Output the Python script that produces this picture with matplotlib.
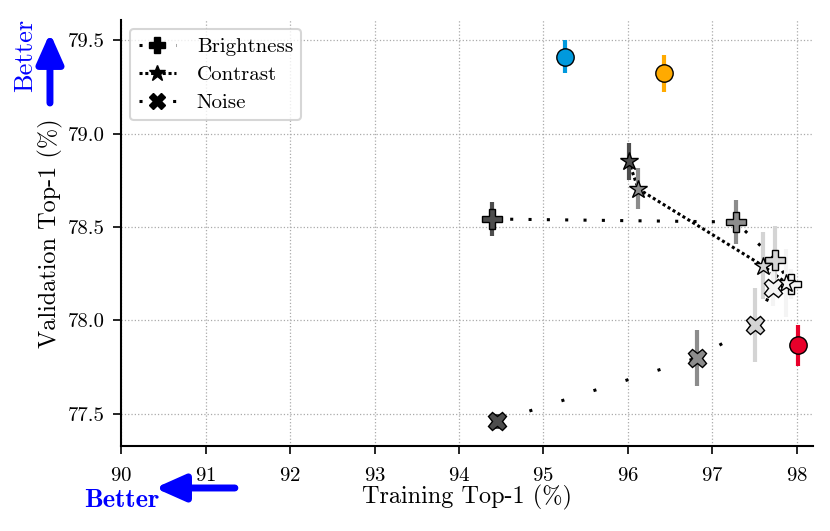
import matplotlib
matplotlib.use("Agg")
import matplotlib.pyplot as plt
from matplotlib.lines import Line2D

plt.rcParams['font.family'] = ['cmr10', 'DejaVu Serif']
plt.rcParams['axes.formatter.use_mathtext'] = True
plt.rcParams['mathtext.fontset'] = 'cm'

# ---- data ----
brightness_x = [94.39, 97.28, 97.745, 97.93]
brightness_y = [78.543, 78.527, 78.325, 78.195]
brightness_err = [0.09, 0.118, 0.18, 0.08]

contrast_x = [96.01, 96.125, 97.60, 97.88]
contrast_y = [78.852, 78.704, 78.293, 78.20]
contrast_err = [0.10, 0.11, 0.18, 0.184]

noise_x = [94.455, 96.82, 97.51, 97.72]
noise_y = [77.461, 77.80, 77.976, 78.176]
noise_err = [0.04, 0.15, 0.197, 0.10]

ref_x = [95.26, 96.43, 98.02]
ref_y = [79.411, 79.322, 77.867]
ref_err = [0.088, 0.10, 0.109]
ref_colors = ['#0099dd', '#ffaa00', '#e8002a']

shade_colors = ['#4d4d4d', '#8c8c8c', '#d4d4d4', '#f4f4f4']

xticks = [90, 91, 92, 93, 94, 95, 96, 97, 98]
yticks = [77.5, 78.0, 78.5, 79.0, 79.5]
labels = ['Brightness', 'Contrast', 'Noise']

fig = plt.figure(figsize=(8.3, 5.31), dpi=100)
ax = fig.add_axes([0.1461, 0.160, 0.834, 0.802])

series = [
    (brightness_x, brightness_y, brightness_err, 'P', 14.0, (0, (1, 5))),
    (contrast_x, contrast_y, contrast_err, '*', 13.5, (0, (1, 0.9))),
    (noise_x, noise_y, noise_err, 'X', 13.5, (0, (1, 10))),
]

handles = []
for xs, ys, es, mk, ms, ls in series:
    ax.plot(xs, ys, color='black', linestyle=ls, lw=2.2, zorder=2)
    for xv, yv, ev, c in zip(xs, ys, es, shade_colors):
        ax.errorbar([xv], [yv], yerr=[ev], fmt='none', ecolor=c, elinewidth=3, capsize=0, zorder=3)
        ax.plot([xv], [yv], marker=mk, markersize=ms, markerfacecolor=c,
                markeredgecolor='black', markeredgewidth=1.0, linestyle='none', zorder=4)
    handles.append(Line2D([0], [0], color='black', linestyle=ls, lw=2.2, marker=mk,
                          markersize=12, markerfacecolor='black', markeredgecolor='black'))

for xv, yv, ev, c in zip(ref_x, ref_y, ref_err, ref_colors):
    ax.errorbar([xv], [yv], yerr=[ev], fmt='none', ecolor=c, elinewidth=3, capsize=0, zorder=3)
    ax.plot([xv], [yv], marker='o', markersize=12.5, markerfacecolor=c,
            markeredgecolor='black', markeredgewidth=1.0, linestyle='none', zorder=4)

ax.set_xlim(90, 98.2)
ax.set_ylim(77.328, 79.607)
ax.set_xticks(xticks)
ax.set_yticks(yticks)
ax.set_yticklabels([f'{v:.1f}' for v in yticks])
ax.tick_params(axis='x', labelsize=15, width=1.2, length=6, pad=9)
ax.tick_params(axis='y', labelsize=15, width=1.2, length=6, pad=6)
ax.spines['top'].set_visible(False)
ax.spines['right'].set_visible(False)
ax.spines['left'].set_linewidth(1.5)
ax.spines['bottom'].set_linewidth(1.5)
ax.grid(True, linestyle=':', color='#aaaaaa', lw=0.9)
ax.set_axisbelow(True)

ax.set_xlabel('Training Top-1 (%)', fontsize=17.5, labelpad=0)
ax.set_ylabel('Validation Top-1 (%)', fontsize=17.5, labelpad=3)

leg = ax.legend(handles, labels, loc='upper left',
                fontsize=15, frameon=True, fancybox=True, handlelength=1.8,
                handletextpad=1.0, borderpad=0.4, labelspacing=0.45,
                borderaxespad=0.43)
leg.get_frame().set_edgecolor('#cccccc')
leg.get_frame().set_linewidth(1.5)

# "Better" arrows
astyle = '-|>,head_length=0.9,head_width=0.4'
ax.annotate('', xy=(0.0602, 0.938), xytext=(0.0602, 0.806), xycoords='figure fraction',
            arrowprops=dict(arrowstyle=astyle, color='blue', lw=5, mutation_scale=20,
                            shrinkA=0, shrinkB=0, capstyle='round', joinstyle='round'),
            annotation_clip=False)
fig.text(0.0305, 0.895, 'Better', color='blue', rotation=90, ha='center', va='center',
         fontsize=19, family='cmr10')
ax.annotate('', xy=(0.1867, 0.081), xytext=(0.283, 0.081), xycoords='figure fraction',
            arrowprops=dict(arrowstyle=astyle, color='blue', lw=5, mutation_scale=20,
                            shrinkA=0, shrinkB=0, capstyle='round', joinstyle='round'),
            annotation_clip=False)
fig.text(0.1466, 0.058, 'Better', color='blue', ha='center', va='center',
         fontsize=19, family='cmb10')

fig.savefig('out.png', dpi=100)
